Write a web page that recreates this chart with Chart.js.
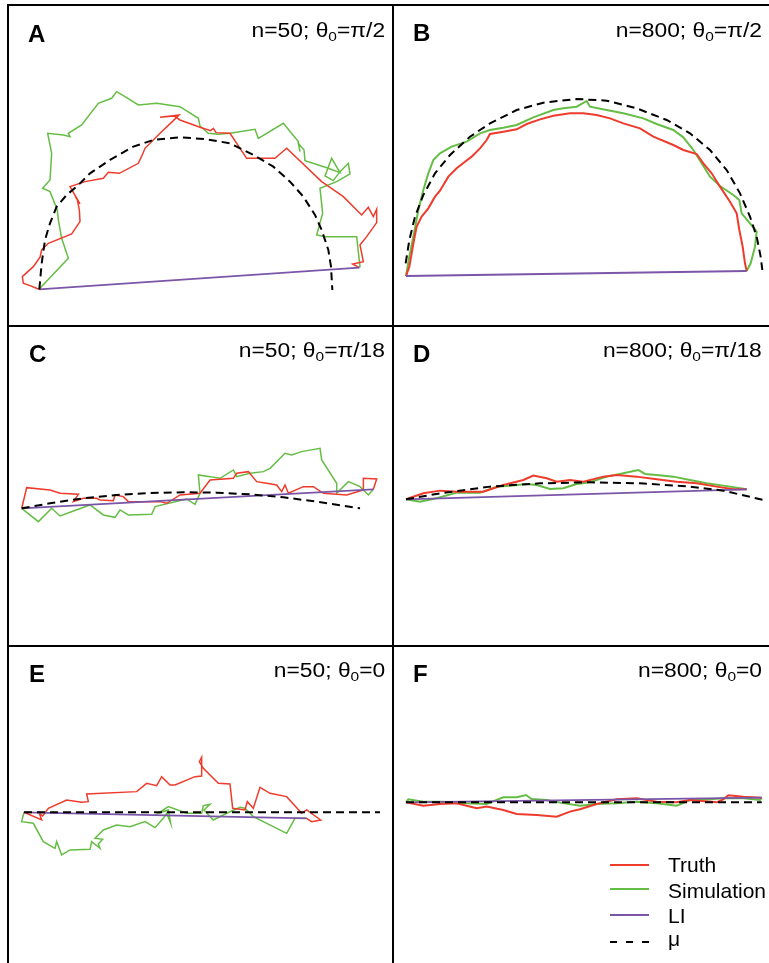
<!DOCTYPE html>
<html>
<head>
<meta charset="utf-8">
<script src="https://cdn.jsdelivr.net/npm/chart.js@4.4.0/dist/chart.umd.min.js"></script>
<style>
body{margin:0;background:#fff;width:769px;height:963px;overflow:hidden;position:relative;font-family:"Liberation Sans",Arial,Helvetica,sans-serif;color:#000;}
.ln{position:absolute;background:#000;}
canvas{position:absolute;}
.lab{position:absolute;font-weight:bold;font-size:24px;line-height:1;}
.ttl{position:absolute;font-size:19.5px;line-height:1;white-space:nowrap;transform:scaleX(1.17);transform-origin:right center;}
.sb{font-size:0.68em;position:relative;top:0.3em;}
.leg{position:absolute;left:610px;width:39px;height:2px;}
.legt{position:absolute;left:668px;font-size:21px;line-height:1;}
</style>
</head>
<body>
<!-- panel frame -->
<div class="ln" style="left:7px;top:4px;width:2px;height:959px"></div>
<div class="ln" style="left:7px;top:4px;width:762px;height:2px"></div>
<div class="ln" style="left:392px;top:4px;width:2px;height:959px"></div>
<div class="ln" style="left:7px;top:325px;width:762px;height:2px"></div>
<div class="ln" style="left:7px;top:645px;width:762px;height:2px"></div>

<canvas id="cA" width="383" height="319" style="left:9px;top:6px"></canvas>
<canvas id="cB" width="375" height="319" style="left:394px;top:6px"></canvas>
<canvas id="cC" width="383" height="318" style="left:9px;top:327px"></canvas>
<canvas id="cD" width="375" height="318" style="left:394px;top:327px"></canvas>
<canvas id="cE" width="383" height="316" style="left:9px;top:647px"></canvas>
<canvas id="cF" width="375" height="316" style="left:394px;top:647px"></canvas>

<div class="lab" style="left:28px;top:22px">A</div>
<div class="lab" style="left:413px;top:21px">B</div>
<div class="lab" style="left:29px;top:342px">C</div>
<div class="lab" style="left:413px;top:342px">D</div>
<div class="lab" style="left:29px;top:662px">E</div>
<div class="lab" style="left:413px;top:662px">F</div>

<div class="ttl" style="right:384px;top:21px">n=50; θ<span class="sb">0</span>=π/2</div>
<div class="ttl" style="right:7px;top:21px">n=800; θ<span class="sb">0</span>=π/2</div>
<div class="ttl" style="right:384px;top:341px">n=50; θ<span class="sb">0</span>=π/18</div>
<div class="ttl" style="right:7px;top:341px">n=800; θ<span class="sb">0</span>=π/18</div>
<div class="ttl" style="right:384px;top:661px">n=50; θ<span class="sb">0</span>=0</div>
<div class="ttl" style="right:7px;top:661px">n=800; θ<span class="sb">0</span>=0</div>

<!-- legend -->
<div class="leg" style="top:864px;background:#EF3B2C"></div>
<div class="leg" style="top:888px;background:#66BD45"></div>
<div class="leg" style="top:914px;background:#7A55A8"></div>
<div class="leg" style="top:941px;background:repeating-linear-gradient(90deg,#000 0 7px,transparent 7px 16px)"></div>
<div class="legt" style="top:854px">Truth</div>
<div class="legt" style="top:880px">Simulation</div>
<div class="legt" style="top:905px">LI</div>
<div class="legt" style="top:928px">μ</div>

<script>
// positions in arbitrary plane units (walk starts at 0,0; y up)

// A: n=50, theta0 = pi/2
var truthA = [[0,0],[-27,11],[-47,18],[-50,38],[-17,68],[3,96],[8,118],[28,138],[98,166],[123,203],[121,238],[115,268],[109,278],[123,256],[93,308],[138,323],[193,333],[208,351],[241,348],[298,378],[311,406],[318,423],[363,468],[403,506],[420,523],[363,516],[405,520],[423,508],[483,486],[515,476],[523,483],[531,470],[573,468],[623,393],[708,393],[743,423],[848,323],[873,306],[913,278],[968,223],[988,246],[1003,218],[1013,240],[1013,200],[983,158],[963,133],[973,83],[941,76],[961,65]];
var simA = [[0,0],[88,93],[68,153],[58,208],[55,238],[33,293],[11,303],[33,328],[38,408],[26,468],[73,463],[93,458],[88,468],[128,493],[178,558],[218,573],[233,593],[258,578],[298,553],[353,558],[423,548],[478,513],[483,490],[508,468],[538,465],[573,468],[648,480],[658,453],[733,498],[778,443],[783,413],[778,438],[795,418],[798,386],[868,363],[903,350],[878,393],[858,340],[883,326],[903,353],[928,378],[933,346],[893,323],[843,303],[851,228],[833,163],[858,158],[953,158],[963,68],[961,65]];
var liA = [[0,0],[961,65]];
var muA = [[1,0],[8,78],[18,148],[33,198],[53,248],[83,283],[118,313],[153,348],[213,388],[283,428],[343,448],[423,456],[503,450],[573,438],[643,403],[703,368],[753,323],[793,278],[828,223],[848,178],[868,118],[876,68],[880,-2]];

// B: n=800, theta0 = pi/2
var truthB = [[0,0],[10,28],[17,68],[24,108],[32,148],[47,178],[67,203],[87,238],[102,256],[127,298],[152,323],[177,343],[197,358],[222,383],[242,408],[252,426],[292,433],[332,440],[362,456],[402,470],[442,481],[492,488],[532,488],[572,483],[612,473],[652,458],[702,443],[742,418],[802,393],[832,378],[872,366],[892,338],[917,308],[942,268],[972,223],[992,188],[1000,138],[1010,88],[1017,38],[1022,15]];
var simB = [[0,0],[10,58],[24,128],[37,198],[52,258],[67,308],[82,348],[102,368],[137,388],[182,403],[222,428],[252,438],[292,445],[332,453],[382,476],[442,498],[472,503],[512,508],[542,525],[552,508],[602,498],[652,488],[712,473],[752,456],[802,438],[832,416],[862,378],[887,338],[912,298],[942,270],[982,243],[1000,228],[1007,188],[1032,158],[1052,133],[1047,88],[1034,38],[1022,15]];
var liB = [[0,0],[1022,15]];
var muB = [[-1,38],[10,108],[27,178],[52,243],[87,308],[132,363],[192,418],[252,458],[332,498],[412,520],[512,531],[602,526],[692,503],[782,468],[852,428],[912,378],[962,318],[1002,248],[1032,178],[1052,118],[1064,58],[1069,18]];

// C: n=50, theta0 = pi/18
var truthC = [[0,0],[15,62],[85,55],[115,45],[170,42],[155,20],[185,30],[225,30],[235,25],[275,23],[280,40],[305,35],[320,20],[415,20],[435,15],[475,40],[535,45],[565,85],[635,90],[645,105],[680,110],[705,80],[735,75],[765,70],[780,50],[790,70],[800,45],[845,65],[875,65],[905,45],[975,40],[1025,55],[1025,90],[1065,88],[1055,57]];
var simC = [[0,0],[50,-40],[90,0],[115,-23],[205,10],[245,-20],[280,-27],[295,-5],[320,-20],[390,-18],[400,5],[495,28],[520,12],[535,45],[530,100],[565,95],[595,90],[635,115],[645,95],[685,105],[725,110],[745,120],[790,165],[810,160],[840,170],[895,180],[900,145],[945,75],[945,45],[980,80],[1015,65],[1040,40],[1055,57]];
var liC = [[0,0],[1055,57]];
var muC = [[0,0],[85,15],[185,30],[285,40],[385,46],[485,48],[585,47],[685,42],[785,33],[885,20],[1015,0]];

// D: n=800, theta0 = pi/18
var truthD = [[0,0],[52,18],[102,26],[152,23],[232,23],[292,43],[352,58],[382,71],[422,63],[452,53],[492,58],[532,53],[592,68],[632,73],[692,68],[752,60],[812,53],[872,48],[932,38],[982,30],[1022,30]];
var simD = [[0,0],[42,-7],[92,3],[152,20],[222,20],[272,38],[312,41],[362,46],[392,43],[432,31],[472,33],[512,46],[552,51],[602,68],[652,78],[697,88],[717,76],[752,73],[802,68],[852,58],[902,48],[952,41],[1022,30]];
var liD = [[0,0],[1022,30]];
var muD = [[0,0],[102,18],[252,38],[402,48],[552,51],[702,48],[852,38],[952,26],[1072,-2]];

// E: n=50, theta0 = 0
var truthE = [[0,0],[53,-23],[46,-3],[56,-11],[73,12],[128,37],[173,30],[193,32],[188,55],[338,62],[368,87],[398,80],[413,107],[438,82],[453,82],[513,107],[533,109],[533,165],[526,152],[538,132],[583,87],[618,85],[626,12],[663,7],[670,32],[688,12],[708,75],[738,57],[788,47],[833,-3],[848,7],[890,-23],[863,-28],[848,-18]];
var simE = [[0,0],[-7,-28],[28,-33],[58,-88],[93,-108],[98,-88],[113,-128],[138,-113],[198,-111],[203,-88],[228,-108],[223,-95],[236,-81],[213,-78],[238,-53],[278,-38],[318,-43],[363,-28],[393,-46],[418,-18],[428,-3],[440,-33],[433,7],[403,-3],[433,17],[488,-3],[533,-3],[538,20],[558,24],[540,7],[568,-23],[608,-3],[648,15],[663,12],[688,-13],[788,-63],[813,-18],[848,-18]];
var liE = [[0,0],[848,-18]];
var muE = [[0,0],[1068,0]];

// F: n=800, theta0 = 0
var truthF = [[0,0],[52,-10],[102,-5],[152,-3],[212,-18],[242,-13],[292,-23],[332,-35],[392,-38],[452,-43],[492,-28],[522,-21],[572,-5],[632,9],[692,12],[752,2],[812,0],[852,7],[932,0],[952,9],[967,21],[1012,17],[1067,14]];
var simF = [[0,0],[7,9],[52,2],[112,2],[182,-3],[242,-5],[292,15],[332,15],[360,22],[377,10],[422,7],[462,-1],[522,-10],[572,-5],[632,-3],[692,2],[752,-3],[812,-10],[852,7],[912,9],[952,12],[1012,12],[1062,7],[1067,14]];
var liF = [[0,0],[1067,14]];
var muF = [[0,0],[1067,0]];

var RED = '#EF3B2C', GREEN = '#66BD45', PURPLE = '#7A55A8';
var UNITS_PER_PX = 3;

// canvas box [left, top, w, h] and where the walk starts in the page
var panels = [
	{id:'cA', box:[9,6,383,319], origin:[39,289.3], truth:truthA, sim:simA, li:liA, mu:muA, lw:1.5},
	{id:'cB', box:[394,6,375,319], origin:[406,276], truth:truthB, sim:simB, li:liB, mu:muB, lw:2},
	{id:'cC', box:[9,327,383,318], origin:[21.7,508.3], truth:truthC, sim:simC, li:liC, mu:muC, lw:1.5},
	{id:'cD', box:[394,327,375,318], origin:[406,499.3], truth:truthD, sim:simD, li:liD, mu:muD, lw:2},
	{id:'cE', box:[9,647,383,316], origin:[24,812.3], truth:truthE, sim:simE, li:liE, mu:muE, lw:1.5},
	{id:'cF', box:[394,647,375,316], origin:[406,802.3], truth:truthF, sim:simF, li:liF, mu:muF, lw:2}
];

function pts(arr) {
	return arr.map(function(p) { return {x: p[0], y: p[1]}; });
}

function line(data, color, width, dash) {
	return {
		data: pts(data),
		showLine: true,
		borderColor: color,
		borderWidth: width,
		borderDash: dash || [],
		pointRadius: 0,
		tension: 0,
		fill: false
	};
}

panels.forEach(function(p) {
	var b = p.box, o = p.origin;
	var xmin = (b[0] - o[0]) * UNITS_PER_PX;
	var xmax = (b[0] + b[2] - o[0]) * UNITS_PER_PX;
	var ymax = (o[1] - b[1]) * UNITS_PER_PX;
	var ymin = (o[1] - b[1] - b[3]) * UNITS_PER_PX;
	new Chart(document.getElementById(p.id), {
		type: 'scatter',
		data: {
			datasets: [
				line(p.mu, '#000', 2, [8, 5]),   // first = drawn on top
				line(p.li, PURPLE, 1.8),
				line(p.truth, RED, p.lw),
				line(p.sim, GREEN, p.lw)
			]
		},
		options: {
			responsive: false,
			animation: false,
			devicePixelRatio: 1,
			layout: {padding: 0},
			plugins: {legend: {display: false}, tooltip: {enabled: false}},
			scales: {
				x: {type: 'linear', display: false, min: xmin, max: xmax},
				y: {type: 'linear', display: false, min: ymin, max: ymax}
			}
		}
	});
});
</script>
</body>
</html>
